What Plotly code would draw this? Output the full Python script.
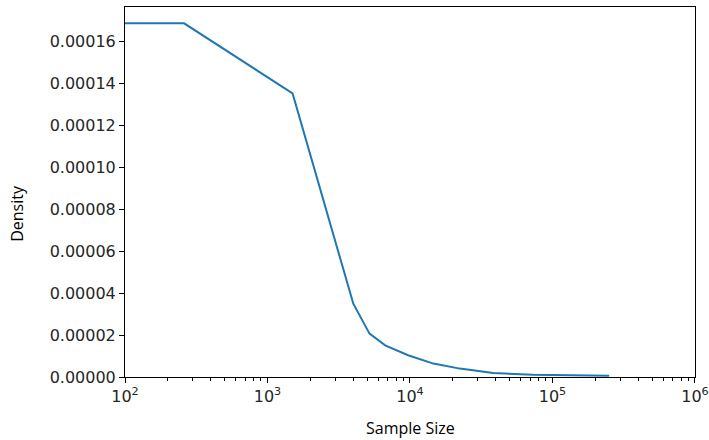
import plotly.graph_objects as go

sample_size = [100, 260, 1500, 4000, 5200, 6700, 9700, 14600, 22400, 38400, 73000, 250000]
density = [0.0001687, 0.0001687, 0.0001353, 0.0000350, 0.0000207, 0.0000151, 0.0000104,
           0.0000064, 0.0000040, 0.0000019, 0.0000011, 0.0000006]

x_ticks = [100, 1000, 10000, 100000, 1000000]
x_labels = ["10<sup>2</sup>", "10<sup>3</sup>", "10<sup>4</sup>", "10<sup>5</sup>", "10<sup>6</sup>"]
y_ticks = [0, 0.00002, 0.00004, 0.00006, 0.00008, 0.00010, 0.00012, 0.00014, 0.00016]
y_labels = ["0.00000", "0.00002", "0.00004", "0.00006", "0.00008",
            "0.00010", "0.00012", "0.00014", "0.00016"]

fig = go.Figure()
fig.add_trace(go.Scatter(x=sample_size, y=density, mode="lines",
                         line=dict(color="#1f77b4", width=2)))

tick_font = dict(family="DejaVu Sans", size=16, color="#262626")
fig.update_layout(
    width=709, height=440,
    margin=dict(l=125, r=14, t=7, b=63),
    paper_bgcolor="white", plot_bgcolor="white",
    showlegend=False,
    xaxis=dict(type="log", range=[2, 6.0002], tickvals=x_ticks, ticktext=x_labels,
               automargin=False, ticklabeloverflow="allow",
               showgrid=False, zeroline=False,
               showline=True, linecolor="black", linewidth=1, mirror=True,
               ticks="outside", ticklen=5, tickcolor="black", tickfont=tick_font,
               minor=dict(ticks="outside", ticklen=3, tickcolor="black", dtick="D1", showgrid=False)),
    yaxis=dict(range=[0, 0.0001765], tickvals=y_ticks, ticktext=y_labels,
               automargin=False,
               showgrid=False, zeroline=False,
               showline=True, linecolor="black", linewidth=1, mirror=True,
               ticks="outside", ticklen=5, tickcolor="black", tickfont=tick_font),
    annotations=[
        dict(text="Density", xref="paper", yref="paper", x=-0.19, y=0.443,
             textangle=-90, showarrow=False, xanchor="center", yanchor="middle",
             font=dict(family="Open Sans", size=16, color="black")),
        dict(text="Sample Size", xref="paper", yref="paper", x=0.5, y=-0.138,
             showarrow=False, xanchor="center", yanchor="middle",
             font=dict(family="Open Sans", size=16, color="black")),
    ],
)

fig.write_html("out.html")
